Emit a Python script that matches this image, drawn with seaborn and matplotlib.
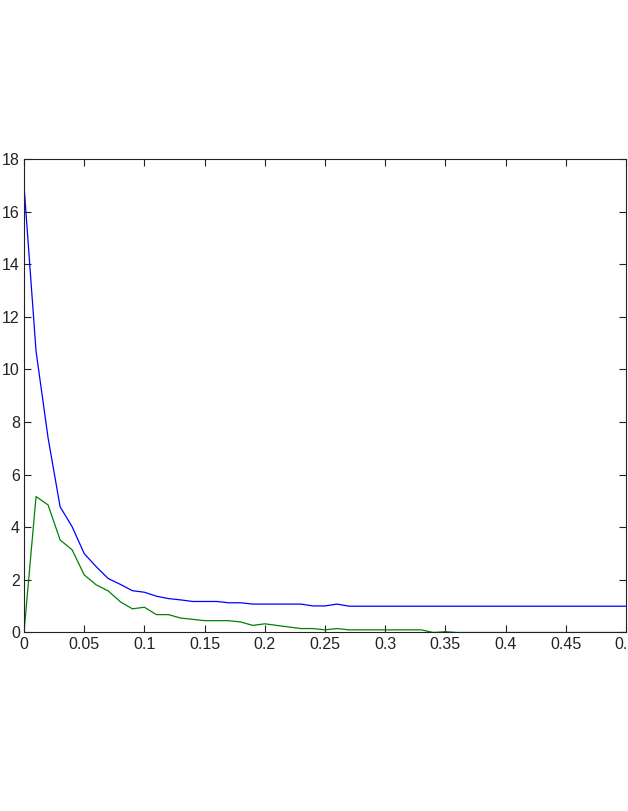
import numpy as np
import pandas as pd
import matplotlib
matplotlib.use("Agg")
import matplotlib.pyplot as plt
import seaborn as sns

# x grid (step 0.01 from 0 to 0.5)
x_vals = [round(0.01 * i, 2) for i in range(51)]

blue_vals = [17.0, 10.7, 7.4, 4.78, 4.02, 3.0, 2.5, 2.05, 1.83, 1.59,
             1.53, 1.38, 1.29, 1.24, 1.18, 1.18, 1.18, 1.13, 1.13, 1.08,
             1.08, 1.08, 1.08, 1.08, 1.01, 1.01, 1.08, 1.0, 1.0, 1.0,
             1.0, 1.0, 1.0, 1.0, 1.0, 1.0, 1.0, 1.0, 1.0, 1.0,
             1.0, 1.0, 1.0, 1.0, 1.0, 1.0, 1.0, 1.0, 1.0, 1.0, 1.0]

green_vals = [0.0, 5.17, 4.85, 3.52, 3.14, 2.19, 1.81, 1.58, 1.17, 0.9,
              0.96, 0.68, 0.68, 0.55, 0.5, 0.45, 0.45, 0.45, 0.4, 0.27,
              0.33, 0.27, 0.21, 0.15, 0.15, 0.1, 0.15, 0.1, 0.1, 0.1,
              0.1, 0.1, 0.1, 0.1, 0.0, 0.03, 0.0, 0.0, 0.0, 0.0,
              0.0, 0.0, 0.0, 0.0, 0.0, 0.0, 0.0, 0.0, 0.0, 0.0, 0.0]

x_ticks = [0, 0.05, 0.1, 0.15, 0.2, 0.25, 0.3, 0.35, 0.4, 0.45, 0.5]
x_labels = ["0", "0.05", "0.1", "0.15", "0.2", "0.25", "0.3", "0.35", "0.4", "0.45", "0.5"]
y_ticks = [0, 2, 4, 6, 8, 10, 12, 14, 16, 18]

df = pd.DataFrame({
    "x": x_vals * 2,
    "y": blue_vals + green_vals,
    "series": ["blue"] * len(x_vals) + ["green"] * len(x_vals),
})

sns.set_style("ticks")
plt.rcParams["font.family"] = ["Liberation Sans", "DejaVu Sans"]
plt.rcParams.update({
    "xtick.direction": "in", "ytick.direction": "in",
    "xtick.top": True, "ytick.right": True,
    "xtick.major.size": 5, "ytick.major.size": 5,
    "xtick.color": "#222222", "ytick.color": "#222222",
})

fig = plt.figure(figsize=(6.28, 8.11), dpi=100)
ax = fig.add_axes([0.0382, 0.2201, 0.9586, 0.5838])

sns.lineplot(data=df, x="x", y="y", hue="series",
             palette={"blue": "#0000ff", "green": "#008000"},
             linewidth=0.9, legend=False, ax=ax)

ax.set_xlim(0, 0.5)
ax.set_ylim(0, 18)
ax.set_xticks(x_ticks)
ax.set_xticklabels(x_labels, fontsize=11.5)
ax.set_yticks(y_ticks)
ax.set_yticklabels([str(v) for v in y_ticks], fontsize=11.5)
ax.set_xlabel("")
ax.set_ylabel("")
ax.tick_params(pad=3, width=0.8)
for s in ax.spines.values():
    s.set_visible(True)
    s.set_linewidth(0.8)
    s.set_color("#222222")

fig.savefig("out.png", dpi=100)
